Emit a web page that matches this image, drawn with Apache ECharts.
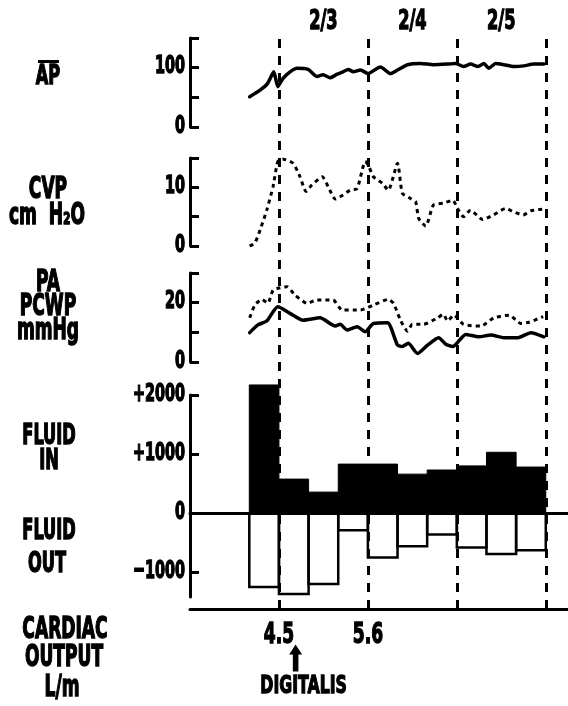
<!DOCTYPE html>
<html><head><meta charset="utf-8">
<script src="https://cdn.jsdelivr.net/npm/echarts@6/dist/echarts.min.js"></script>
<style>html,body{margin:0;padding:0;background:#fff}#c{width:568px;height:706px}</style>
</head><body><div id="c"></div>
<script>
// ---- data (hours from start of 2/3) ----
const dayLabels = ['2/3', '2/4', '2/5'];
const dayBounds = [0, 24, 48, 72];

const apHours  = [-7.9,-5.1,-3.0,-1.4,-0.3,1.1,3.0,4.9,7.9,10.3,11.9,13.8,15.7,17.3,18.7,20.1,22.0,24.1,26.0,27.4,30.1,32.0,34.7,38.2,41.7,45.5,47.7,49.8,51.7,53.7,55.3,56.6,58.5,60.7,63.4,66.1,68.8,71.5];
const apValues = [51,62,74,93,68,82,93,99,97,85,88,83,89,93,97,93,96,90,97,101,90,96,105,107,105,106,107,102,106,102,107,99,107,105,102,103,106,106];

const cvpHours  = [-7.9,-6.5,-5.1,-3.3,-1.6,-0.3,1.1,3.8,5.7,7.3,8.9,11.7,13.3,15.2,17.3,19.2,21.1,23.3,24.1,25.5,27.9,29.5,32.0,33.3,35.5,36.9,37.7,39.6,41.7,44.4,46.9,48.2,49.8,51.7,55.0,57.9,61.2,63.4,65.9,68.0,71.3];
const cvpValues = [0.0,0.5,2.7,6.1,10.1,14.4,14.8,14.1,11.8,9.3,10.4,11.8,10.1,8.0,8.7,9.5,9.8,14.4,13.8,11.8,10.7,9.5,14.1,9.0,8.1,7.5,4.7,3.4,7.0,7.3,7.8,6.4,5.0,6.1,4.5,5.3,6.4,5.8,5.3,6.0,6.3];

const paHours  = [-7.9,-6.5,-4.6,-3.0,-1.6,0.3,2.2,4.3,7.6,10.3,14.6,17.1,22.0,25.5,29.5,30.9,32.8,34.7,36.0,39.0,42.8,44.4,45.5,47.2,49.8,54.5,58.0,62.1,65.3,67.5,71.3];
const paValues = [14.9,19.2,21.1,19.8,24.2,25.0,25.4,22.6,19.8,20.9,20.9,17.5,17.5,19.2,21.1,19.8,14.1,10.4,12.7,12.7,14.9,16.1,13.8,15.8,12.7,12.1,14.9,15.8,13.0,13.4,15.3];

const pcwpHours  = [-7.9,-5.7,-3.3,-0.3,3.0,6.5,11.1,15.2,16.5,18.4,21.1,23.3,25.5,29.3,32.0,33.3,34.9,37.4,40.1,43.1,45.0,46.9,50.4,53.9,57.2,60.7,64.5,68.0,71.5];
const pcwpValues = [9.9,12.5,13.8,18.6,16.4,14.1,14.9,12.1,12.7,10.8,11.9,10.2,13.0,13.2,5.7,5.2,6.3,2.9,5.7,8.2,6.0,5.2,9.3,8.5,9.1,8.2,8.2,9.9,8.5];

const shiftStarts = [-8, 0, 8, 16, 24, 32, 40, 48, 56, 64];
const shiftLength = 8;
const fluidIn  = [2170, 576, 356, 830, 830, 660, 730, 800, 1030, 780];
const fluidOut = [-1250, -1370, -1200, -290, -750, -560, -360, -580, -690, -630];

const coHours  = [0, 24];
const coValues = ['4.5', '5.6'];
const digitalisHour = 4.5;

const apTicks = [0, 50, 100, 150],  apTickLabels = [0, 100];
const cvpTicks = [0, 5, 10, 15],    cvpTickLabels = [0, 10];
const paTicks = [0, 10, 20, 30],    paTickLabels = [0, 20];
const fluidTicks = [-1000, 0, 1000, 2000], fluidTickLabels = ['\u22121000', '0', '+1000', '+2000'];

// ---- styling ----
const FAM = "'DejaVu Sans Condensed','DejaVu Sans',sans-serif";
const X_MIN = -24, X_MAX = 78;
const zip = (a, b) => a.map((v, i) => [v, b[i]]);

const grids = [
  {left: 190, right: 0, top: 0, height: 44},     // 0 header
  {left: 190, right: 0, top: 38, height: 89},    // 1 AP
  {left: 190, right: 0, top: 158, height: 88},   // 2 CVP
  {left: 190, right: 0, top: 273, height: 89},   // 3 PA/PCWP
  {left: 190, right: 0, top: 395, height: 202},  // 4 fluid
  {left: 190, right: 0, top: 37, height: 572},   // 5 overlay (dashed lines, bottom line)
  {left: 190, right: 0, top: 612, height: 94}    // 6 cardiac output
];

function xAx(i, extra) {
  return Object.assign({gridIndex: i, type: 'value', min: X_MIN, max: X_MAX, show: false,
    splitLine: {show: false}, axisTick: {show: false}, axisLabel: {show: false}}, extra || {});
}
const axisLineStyle = {color: '#000', width: 3};
const xAxes = [
  xAx(0), xAx(1), xAx(2), xAx(3),
  xAx(4, {show: true, axisLine: {show: true, onZero: true, lineStyle: axisLineStyle}}),
  xAx(5, {show: true, position: 'bottom', axisLine: {show: true, onZero: false, lineStyle: axisLineStyle}}),
  xAx(6)
];

function yAx(i, min, max, ticks) {
  return {gridIndex: i, type: 'value', min: min, max: max,
    splitLine: {show: false},
    axisLine: {show: true, onZero: false, lineStyle: axisLineStyle},
    axisTick: {show: true, inside: true, length: 9, lineStyle: {color: '#000', width: 3}, customValues: ticks},
    axisLabel: {show: false}
  };
}
const hidY = (i, min, max, inv) => ({gridIndex: i, type: 'value', min: min, max: max, show: false, inverse: !!inv, splitLine: {show: false}});
const yAxes = [
  hidY(0, 0, 44, true),
  yAx(1, 0, 150, apTicks),
  yAx(2, 0, 15, cvpTicks),
  yAx(3, 0, 30, paTicks),
  yAx(4, -1420, 2000, fluidTicks),
  hidY(5, 0, 1),
  hidY(6, 0, 94, true)
];

function lineSeries(gi, hours, vals, dotted) {
  return {type: 'line', xAxisIndex: gi, yAxisIndex: gi, data: zip(hours, vals), symbol: 'none',
    smooth: 0.2, z: 5, silent: true,
    lineStyle: dotted ? {color: '#000', width: 3, type: [4, 4], cap: 'butt'} : {color: '#000', width: 3.5, join: 'round', cap: 'round'}};
}

const fluidInData = shiftStarts.map((s, i) => [s, s + shiftLength, fluidIn[i]]);
const fluidOutData = shiftStarts.map((s, i) => [s, s + shiftLength, fluidOut[i]]);

function barRender(filled) {
  return function (params, api) {
    const p0 = api.coord([api.value(0), api.value(2)]);
    const p1 = api.coord([api.value(1), 0]);
    const x = Math.min(p0[0], p1[0]), y = Math.min(p0[1], p1[1]);
    const w = Math.abs(p1[0] - p0[0]), h = Math.abs(p1[1] - p0[1]);
    return {type: 'rect', shape: {x: x, y: y, width: w, height: h},
      style: filled ? {fill: '#000', stroke: '#000', lineWidth: 1} : {fill: 'none', stroke: '#000', lineWidth: 2.5}};
  };
}

const series = [
  {type: 'line', xAxisIndex: 5, yAxisIndex: 5, data: dayBounds.map(d => [d, 0]), symbol: 'none',
    lineStyle: {opacity: 0}, z: 1, silent: true,
    markLine: {symbol: 'none', silent: true, label: {show: false}, animation: false,
      lineStyle: {color: '#000', width: 3, type: [9, 8]},
      data: dayBounds.map(d => ({xAxis: d}))}},
  lineSeries(1, apHours, apValues, false),
  lineSeries(2, cvpHours, cvpValues, true),
  lineSeries(3, paHours, paValues, true),
  lineSeries(3, pcwpHours, pcwpValues, false),
  {type: 'custom', xAxisIndex: 4, yAxisIndex: 4, data: fluidInData, renderItem: barRender(true), clip: false, z: 3, silent: true},
  {type: 'custom', xAxisIndex: 4, yAxisIndex: 4, data: fluidOutData, renderItem: barRender(false), clip: false, z: 3, silent: true},
  {type: 'scatter', xAxisIndex: 6, yAxisIndex: 6, silent: true,
    symbol: 'path://M7,0 L14,10 L10,10 L10,27 L4,27 L4,10 L0,10 Z', symbolSize: [13, 27],
    itemStyle: {color: '#000', opacity: 1}, data: [[digitalisHour, 46]]}
];

const chart = echarts.init(document.getElementById('c'), null, {renderer: 'canvas'});
chart.setOption({animation: false, backgroundColor: '#fff', grid: grids, xAxis: xAxes, yAxis: yAxes, series: series});

// ---- texts ----
function gtext(t, x, y, fs, sy, align) {
  return {type: 'text', silent: true, x: x, y: y, scaleY: sy || 1.55, z: 10,
    style: {text: t, x: 0, y: 0, align: align || 'center', verticalAlign: 'middle', fill: '#000',
      stroke: '#000', lineWidth: 0.9, font: 'bold ' + fs + 'px ' + FAM}};
}
const graphics = [
  gtext('AP', 48, 77, 18, 1.45),
  {type: 'rect', silent: true, z: 11, shape: {x: 38, y: 60, width: 21, height: 3}, style: {fill: '#000'}},
  gtext('CVP', 48, 190, 19),
  gtext('cm  H\u2082O', 47, 216, 19),
  gtext('PA', 48, 283, 19),
  gtext('PCWP', 48, 307, 19),
  gtext('mmHg', 48, 331, 19),
  gtext('FLUID', 49, 437, 18),
  gtext('IN', 49, 462, 18),
  gtext('FLUID', 49, 532, 18),
  gtext('OUT', 47, 565, 18),
  gtext('CARDIAC', 65, 630, 19),
  gtext('OUTPUT', 64, 658, 19),
  gtext('L/m', 62, 688, 19)
];
const TICK_X = 185;
function addTickLabels(axisIdx, values, texts) {
  values.forEach((v, i) => {
    const y = chart.convertToPixel({yAxisIndex: axisIdx}, v);
    graphics.push(gtext(texts ? texts[i] : String(v), TICK_X, y - 1, 16, 1.6, 'right'));
  });
}
addTickLabels(1, apTickLabels);
addTickLabels(2, cvpTickLabels);
addTickLabels(3, paTickLabels);
addTickLabels(4, [-1000, 0, 1000, 2000], fluidTickLabels);

dayLabels.forEach((t, i) => {
  const x = chart.convertToPixel({xAxisIndex: 0}, (dayBounds[i] + dayBounds[i + 1]) / 2);
  const y = chart.convertToPixel({yAxisIndex: 0}, 22);
  graphics.push(gtext(t, x, y, 18, 1.5));
});
coHours.forEach((h, i) => {
  const x = chart.convertToPixel({xAxisIndex: 6}, h);
  const y = chart.convertToPixel({yAxisIndex: 6}, 24);
  graphics.push(gtext(coValues[i], x, y, 19, 1.5));
});
{
  const x = chart.convertToPixel({xAxisIndex: 6}, digitalisHour);
  const y = chart.convertToPixel({yAxisIndex: 6}, 74);
  graphics.push(gtext('DIGITALIS', x + 8, y, 17.5, 1.45));
}
chart.setOption({graphic: graphics});
</script>
</body></html>
